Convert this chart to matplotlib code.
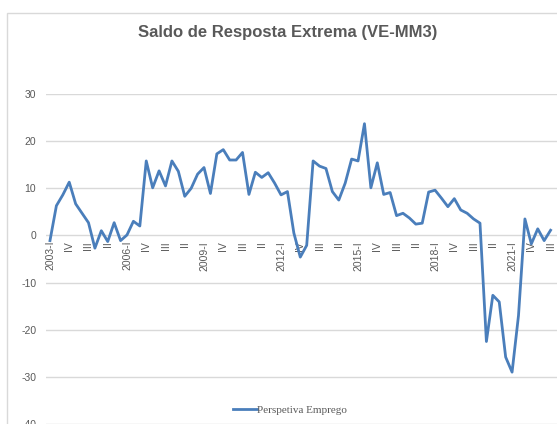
import matplotlib
matplotlib.use("Agg")
import matplotlib.pyplot as plt
from matplotlib.patches import Rectangle

# quarterly series, 2003-I .. 2022-III
values = [
    -1.1, 6.3, 8.6, 11.3, 6.7, 4.7, 2.7, -2.7, 1.0, -1.3, 2.7, -1.1,
    0.1, 3.0, 2.0, 15.8, 10.1, 13.7, 10.5, 15.8, 13.6, 8.3, 10.0, 13.0,
    14.4, 8.9, 17.3, 18.2, 16.0, 16.0, 17.6, 8.7, 13.4, 12.3, 13.3, 11.1,
    8.6, 9.3, 0.5, -4.6, -2.1, 15.8, 14.7, 14.2, 9.3, 7.5, 11.1, 16.2,
    15.8, 23.7, 10.1, 15.4, 8.7, 9.1, 4.2, 4.7, 3.7, 2.4, 2.6, 9.2,
    9.6, 7.9, 6.1, 7.8, 5.4, 4.7, 3.5, 2.6, -22.5, -12.7, -14.1, -25.8,
    -29.0, -17.0, 3.5, -1.8, 1.4, -1.1, 1.1,
]
tick_labels = [
    "2003-I", "IV", "III", "II", "2006-I", "IV", "III", "II", "2009-I",
    "IV", "III", "II", "2012-I", "IV", "III", "II", "2015-I", "IV", "III",
    "II", "2018-I", "IV", "III", "II", "2021-I", "IV", "III",
]
yticks = [-40, -30, -20, -10, 0, 10, 20, 30]
series_name = "Perspetiva Emprego"
title = "Saldo de Resposta Extrema (VE-MM3)"

GREY, GRID, BLUE = "#595959", "#d9d9d9", "#4a7ebb"
plt.rcParams["font.family"] = ["Liberation Sans", "DejaVu Sans"]

fig = plt.figure(figsize=(5.57, 4.24), dpi=100)
# chart frame (cropped at right/bottom)
fig.patches.append(Rectangle((7 / 557, -0.1), 1.2, 1.1 - 13 / 424, transform=fig.transFigure,
                             fill=False, ec=GRID, lw=1.0))
fig.text(288 / 557, 1 - 33 / 424, title, ha="center", va="center", fontsize=12,
         fontweight="bold", color=GREY)

ax = fig.add_axes([46 / 557, 0.0, 1 - 46 / 557, (424 - 94) / 424])
ax.set_facecolor("none")
for s in ax.spines.values():
    s.set_visible(False)
ax.spines["bottom"].set_position(("data", 0))

x = list(range(len(values)))
ax.plot(x, values, color=BLUE, lw=2.0, label=series_name, solid_joinstyle="round")
ax.set_xlim(-0.62, 79.0)
ax.set_ylim(-40, 30)
ax.set_yticks(yticks)
ax.set_yticklabels([str(v) for v in yticks])
ax.yaxis.grid(True, color=GRID, lw=1.0)
ax.set_axisbelow(True)
ax.set_xticks(x[::3])
ax.set_xticklabels(tick_labels)
ax.tick_params(axis="both", length=0, labelsize=7.5, labelcolor=GREY)
ax.tick_params(axis="x", pad=4, labelrotation=90)
ax.tick_params(axis="y", pad=7)

leg = ax.legend(loc="center", bbox_to_anchor=(290 / 557, 1 - 410 / 424),
                bbox_transform=fig.transFigure, frameon=False, handlelength=2.2,
                handletextpad=0.0, prop={"family": "Liberation Serif", "size": 8})
for t in leg.get_texts():
    t.set_color(GREY)

fig.savefig("out.png", dpi=100)
